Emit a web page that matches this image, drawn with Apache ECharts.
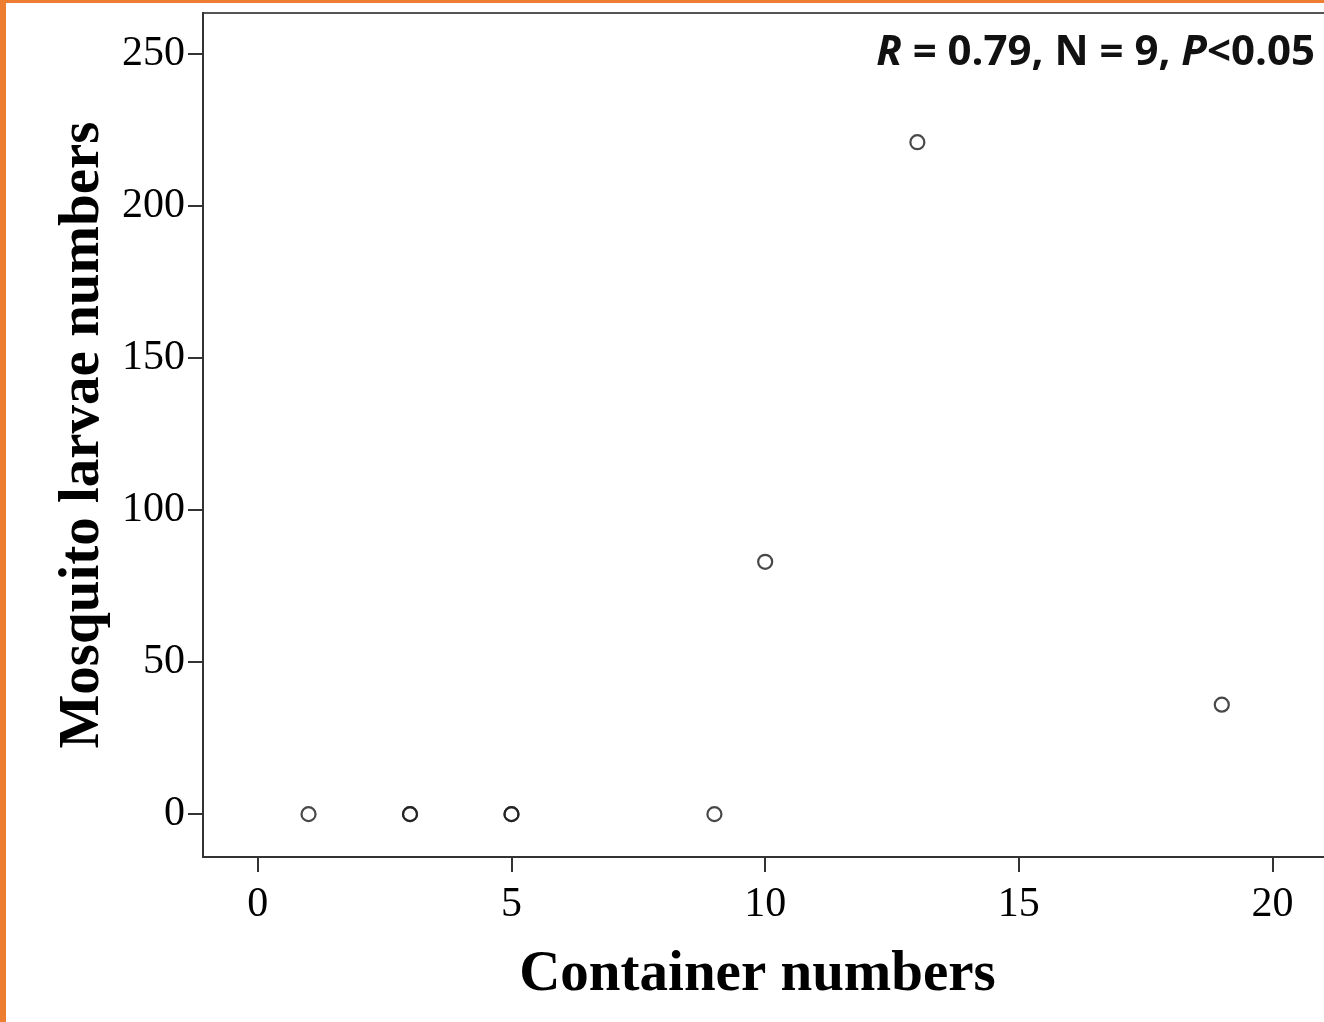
<!doctype html>
<html>
<head>
    <title>Container vs larvae</title>
    <script src="https://cdn.jsdelivr.net/npm/echarts@6/dist/echarts.min.js"></script>
</head>
<style>
    html, body {
        margin: 0;
        padding: 0;
        background: #fff;
    }
    #chart {
        width: 1324px;
        height: 1022px;
    }
</style>
<body>
<div id="chart"></div>
<script>
  // data (two points overlap at x = 3 and x = 5, N = 9)
  var containers = [1, 3, 3, 5, 5, 9, 10, 13, 19];
  var larvae = [0, 0, 0, 0, 0, 0, 83, 221, 36];
  var xTicks = [0, 5, 10, 15, 20];
  var yTicks = [0, 50, 100, 150, 200, 250];
  var statText = '{i|R} = 0.79, N = 9, {i|P}<0.05';

  var points = containers.map(function (c, i) { return [c, larvae[i]]; });

  var serif = '"Liberation Serif", "Times New Roman", serif';
  var myChart = echarts.init(document.getElementById('chart'));

  var option = {
    animation: false,
    backgroundColor: '#fff',
    title: {
      text: statText,
      right: 4,
      top: 9,
      textStyle: {
        fontFamily: '"Open Sans", sans-serif',
        fontWeight: 'bold',
        fontSize: 42,
        color: '#111',
        rich: {
          i: {
            fontFamily: '"Open Sans", sans-serif',
            fontWeight: 'bold',
            fontStyle: 'italic',
            fontSize: 42,
            color: '#111'
          }
        }
      }
    },
    grid: {
      left: 203,
      top: 13,
      bottom: 165,
      right: -50,
      outerBoundsMode: 'none',
      containLabel: false,
      show: true,
      borderColor: '#555',
      borderWidth: 2
    },
    xAxis: {
      type: 'value',
      min: -1.08,
      max: 22,
      name: 'Container numbers',
      nameLocation: 'middle',
      nameMoveOverlap: false,
      nameGap: 73,
      nameTextStyle: {
        fontFamily: serif,
        fontWeight: 'bold',
        fontSize: 57,
        color: '#000',
        padding: [0, 62, 0, 0]
      },
      axisLine: { onZero: false, lineStyle: { color: '#333', width: 2 } },
      axisTick: { show: true, length: 15, customValues: xTicks, lineStyle: { color: '#333', width: 2 } },
      axisLabel: {
        customValues: xTicks,
        margin: 16,
        fontFamily: serif,
        fontSize: 42,
        color: '#000'
      },
      splitLine: { show: false }
    },
    yAxis: {
      type: 'value',
      min: -14.1,
      max: 263.5,
      name: 'Mosquito larvae numbers',
      nameLocation: 'middle',
      nameMoveOverlap: false,
      nameGap: 75,
      nameTextStyle: {
        fontFamily: serif,
        fontWeight: 'bold',
        fontSize: 57,
        color: '#000'
      },
      axisLine: { onZero: false, lineStyle: { color: '#333', width: 2 } },
      axisTick: { show: true, length: 15, customValues: yTicks, lineStyle: { color: '#333', width: 2 } },
      axisLabel: {
        customValues: yTicks,
        margin: 18,
        fontFamily: serif,
        fontSize: 42,
        color: '#000'
      },
      splitLine: { show: false }
    },
    graphic: [
      { type: 'rect', left: 0, top: 0, shape: { width: 6, height: 1022 }, style: { fill: '#ED7D31' } },
      { type: 'rect', left: 0, top: 0, shape: { width: 1324, height: 3 }, style: { fill: '#ED7D31' } }
    ],
    series: [
      {
        type: 'scatter',
        data: points,
        symbol: 'circle',
        symbolSize: 14,
        itemStyle: {
          color: 'rgba(0,0,0,0)',
          borderColor: '#1a1a1a',
          borderWidth: 2.2
        }
      }
    ]
  };

  myChart.setOption(option);
</script>
</body>
</html>
